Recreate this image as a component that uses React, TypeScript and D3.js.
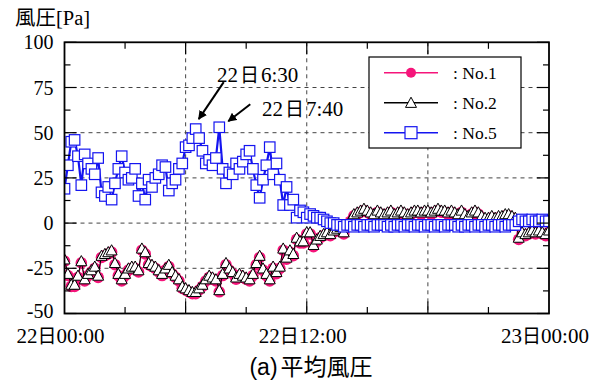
import React from "react";
import * as d3 from "d3";

// sampling every 10 minutes, 22日00:00 .. 23日00:00
const stepMinutes = 10;

const no1 = [
  -21, -29, -35, -35, -30, -22, -32, -29, -27, -25,
  -30, -19, -18, -17, -16, -23, -29, -32, -29, -26,
  -25, -25, -27, -15, -17, -23, -24, -25, -27, -29,
  -26, -24, -28, -30, -32, -36, -37, -38, -39, -39,
  -37, -35, -32, -30, -31, -32, -38, -29, -23, -26,
  -28, -31, -29, -30, -31, -32, -29, -23, -19, -26,
  -29, -32, -25, -28, -25, -15, -20, -16, -18, -9,
  -11, -11, -6, -6, -13, -10, -8, -7, -6, -7,
  -5, -4, -3, -6, -2, 1, 4, 5, 6, 7,
  6, 5, 4, 6, 5, 4, 5, 6, 4, 5,
  6, 5, 4, 5, 6, 6, 5, 6, 6, 5,
  6, 7, 6, 6, 5, 6, 5, 4, 6, 4,
  3, 5, 6, 5, 3, 2, 2, 3, 2, 3,
  3, 4, 4, 3, 2, -9, -6, -7, -6, -5,
  -6, -5, -6, -7, -5,
];

const no2 = [
  -20, -28, -34, -34, -29, -21, -31, -28, -26, -24,
  -29, -18, -17, -16, -15, -22, -28, -31, -28, -25,
  -24, -24, -26, -14, -16, -22, -23, -24, -26, -28,
  -25, -23, -27, -29, -31, -35, -36, -37, -38, -38,
  -36, -34, -31, -29, -30, -31, -37, -28, -22, -25,
  -27, -30, -28, -29, -30, -31, -28, -22, -18, -25,
  -28, -31, -24, -27, -24, -14, -19, -15, -17, -8,
  -10, -10, -5, -5, -12, -9, -7, -6, -5, -6,
  -4, -3, -2, -5, -1, 2, 5, 6, 7, 8,
  7, 6, 5, 7, 6, 5, 6, 7, 5, 6,
  7, 6, 5, 6, 7, 7, 6, 7, 7, 6,
  7, 8, 7, 7, 6, 7, 6, 5, 7, 5,
  4, 6, 7, 6, 4, 3, 3, 4, 3, 4,
  4, 5, 5, 4, 3, -8, -5, -6, -5, -4,
  -5, -4, -5, -6, -4,
];

const no5 = [
  19, 32, 45, 46, 37, 21, 38, 33, 30, 27,
  36, 17, 15, 20, 13, 22, 30, 37, 28, 24,
  25, 30, 15, 22, 13, 24, 20, 25, 27, 32,
  31, 18, 22, 24, 30, 33, 42, 43, 47, 52,
  47, 40, 33, 35, 32, 36, 53, 30, 22, 28,
  27, 33, 30, 34, 38, 40, 30, 21, 14, 24,
  32, 42, 27, 33, 24, 10, 20, 10, 13, 3,
  7, 6, 3, 5, 4, 3, 3, 2, 1, 0,
  0, -1, -1, -2, -1, -1, -2, -1, -1, -2,
  -1, -1, -2, -1, -1, -1, -2, -1, -2, -1,
  -1, -2, -1, -1, -2, -1, -1, -2, -1, -1,
  -2, -1, -1, -2, -1, -1, -1, -2, -1, -2,
  -1, -1, -2, -1, -1, -2, -1, -1, -2, -1,
  -1, -2, -1, -1, -1, 1, 2, 1, 1, 2,
  1, 1, 2, 1, 1,
];

const yTicks = [100, 75, 50, 25, 0, -25, -50];
const yMinorTicks = [87.5, 62.5, 37.5, 12.5, -12.5, -37.5];
const xMajorHours = [6, 12, 18];
const xMinorHours = [3, 9, 15, 21];
const xLabelHours = [0, 12, 24];
const xLabelDay = ["22", "22", "23"];
const xLabelTime = ["00:00", "12:00", "00:00"];

const seriesNames = ["No.1", "No.2", "No.5"];
const annoIndex = [39, 46];
const annoDay = ["22", "22"];
const annoTime = ["6:30", "7:40"];

const PINK = "#f5157a";
const BLUE = "#1414f0";
const SERIF = "'Liberation Serif', serif";
const CJK = "'Noto Sans CJK JP', sans-serif";

export default function App() {
  const W = 600, H = 387;
  const L = 64.5, R = 549, T = 42.3, B = 313.5;
  const x = d3.scaleLinear().domain([0, 24 * 60]).range([L, R]);
  const y = d3.scaleLinear().domain([-50, 100]).range([B, T]);
  const tx = (i: number) => x(i * stepMinutes);

  const line = (vals: number[]) =>
    d3.line<number>().x((_, i) => tx(i)).y((v) => y(v))(vals) || "";

  const tri = (cx: number, cy: number, s = 5.5) =>
    `M${cx},${cy - s}L${cx + s},${cy + s * 0.85}L${cx - s},${cy + s * 0.85}Z`;

  const sq = 10.5;

  // annotation arrow geometry (offsets from data point)
  const arrowTipOff = [[3, -10], [9, -6]];
  const arrowTailOff = [[25, -37], [22, -17]];
  const annoTextPos = [[217, 82], [262, 116]];

  return (
    <svg width={W} height={H} style={{ position: "absolute", left: 0, top: 0, background: "#fff" }}>
      <defs>
        <marker id="ah" viewBox="0 0 10 10" refX="9" refY="5" markerWidth="9" markerHeight="9" orient="auto" markerUnits="userSpaceOnUse">
          <path d="M0,0L10,5L0,10Z" fill="#000" />
        </marker>
        <clipPath id="pc"><rect x={L} y={T} width={R - L} height={B - T} /></clipPath>
      </defs>
      <rect x={0} y={0} width={W} height={H} fill="#fff" />

      {/* grid */}
      {yTicks.filter((v) => v > -50 && v < 100).map((v) => (
        <line key={"gy" + v} x1={L} x2={R} y1={y(v)} y2={y(v)} stroke="#444" strokeWidth={1} strokeDasharray="4,4" />
      ))}
      {xMajorHours.map((h) => (
        <line key={"gx" + h} x1={x(h * 60)} x2={x(h * 60)} y1={T} y2={B} stroke="#444" strokeWidth={1} strokeDasharray="4,4" />
      ))}

      {/* series */}
      <g clipPath="url(#pc)">
        <path d={line(no1)} fill="none" stroke={PINK} strokeWidth={1.2} />
        {no1.map((v, i) => (
          <circle key={"c" + i} cx={tx(i)} cy={y(v)} r={5.8} fill={PINK} />
        ))}
        <path d={line(no2)} fill="none" stroke="#000" strokeWidth={1} />
        {no2.map((v, i) => (
          <path key={"t" + i} d={tri(tx(i), y(v))} fill="#fff" stroke="#000" strokeWidth={1} />
        ))}
        <path d={line(no5)} fill="none" stroke={BLUE} strokeWidth={2.2} />
        {no5.map((v, i) => (
          <rect key={"s" + i} x={tx(i) - sq / 2} y={y(v) - sq / 2} width={sq} height={sq} fill="#fff" stroke={BLUE} strokeWidth={1.2} />
        ))}
      </g>

      {/* ticks */}
      {yTicks.map((v) => (
        <g key={"yt" + v}>
          <line x1={L} x2={L + 12} y1={y(v)} y2={y(v)} stroke="#000" strokeWidth={1.2} />
          <line x1={R} x2={R - 12} y1={y(v)} y2={y(v)} stroke="#000" strokeWidth={1.2} />
        </g>
      ))}
      {yMinorTicks.map((v) => (
        <g key={"ymt" + v}>
          <line x1={L} x2={L + 6} y1={y(v)} y2={y(v)} stroke="#000" strokeWidth={1.2} />
          <line x1={R} x2={R - 6} y1={y(v)} y2={y(v)} stroke="#000" strokeWidth={1.2} />
        </g>
      ))}
      {xMajorHours.map((h) => (
        <g key={"xt" + h}>
          <line x1={x(h * 60)} x2={x(h * 60)} y1={B} y2={B - 12} stroke="#000" strokeWidth={1.2} />
          <line x1={x(h * 60)} x2={x(h * 60)} y1={T} y2={T + 12} stroke="#000" strokeWidth={1.2} />
        </g>
      ))}
      {xMinorHours.map((h) => (
        <g key={"xmt" + h}>
          <line x1={x(h * 60)} x2={x(h * 60)} y1={B} y2={B - 6.5} stroke="#000" strokeWidth={1.2} />
          <line x1={x(h * 60)} x2={x(h * 60)} y1={T} y2={T + 6.5} stroke="#000" strokeWidth={1.2} />
        </g>
      ))}

      {/* frame */}
      <rect x={L} y={T} width={R - L} height={B - T} fill="none" stroke="#000" strokeWidth={1.8} />

      {/* y labels */}
      {yTicks.map((v) => (
        <text key={"yl" + v} x={L - 11} y={y(v) - (v === -50 ? 3 : 0)} dy="0.35em" textAnchor="end" fontFamily={SERIF} fontSize={20} fill="#000">
          {v}
        </text>
      ))}

      {/* x labels */}
      {xLabelHours.map((h, i) => (
        <text key={"xl" + h} x={x(h * 60) - 4} y={343} textAnchor="middle" fontFamily={SERIF} fontSize={21} fill="#000">
          <tspan>{xLabelDay[i]}</tspan>
          <tspan fontFamily={CJK} fontSize={19}>日</tspan>
          <tspan>{xLabelTime[i]}</tspan>
        </text>
      ))}

      {/* axis title */}
      <text x={15} y={25} fontSize={20.5} fill="#000">
        <tspan fontFamily={CJK}>風圧</tspan>
        <tspan fontFamily={SERIF}>[Pa]</tspan>
      </text>

      {/* caption */}
      <text x={311} y={375} textAnchor="middle" fontSize={23} fill="#000">
        <tspan fontFamily="'Liberation Sans', Arial, sans-serif">(a)</tspan>
        <tspan fontFamily={CJK} dx={3}>平均風圧</tspan>
      </text>

      {/* annotations */}
      {annoIndex.map((idx, k) => {
        const px = tx(idx), py = y(no5[idx]);
        const tipX = px + arrowTipOff[k][0], tipY = py + arrowTipOff[k][1];
        return (
          <g key={"an" + k}>
            <line x1={tipX + arrowTailOff[k][0]} y1={tipY + arrowTailOff[k][1]} x2={tipX} y2={tipY} stroke="#000" strokeWidth={2} markerEnd="url(#ah)" />
            <text x={annoTextPos[k][0]} y={annoTextPos[k][1]} fontFamily={SERIF} fontSize={21} fill="#000">
              <tspan>{annoDay[k]}</tspan>
              <tspan fontFamily={CJK} fontSize={19} dx={2}>日</tspan>
              <tspan dx={2}>{annoTime[k]}</tspan>
            </text>
          </g>
        );
      })}

      {/* legend */}
      <g>
        <rect x={369} y={57} width={152} height={91} fill="#fff" stroke="#000" strokeWidth={1.2} />
        {seriesNames.map((name, k) => {
          const ly = 72.7 + k * 30;
          const color = k === 0 ? PINK : k === 1 ? "#000" : BLUE;
          return (
            <g key={"lg" + k}>
              <line x1={384} x2={438} y1={ly} y2={ly} stroke={color} strokeWidth={1.6} />
              {k === 0 && <circle cx={411} cy={ly} r={5} fill={PINK} />}
              {k === 1 && <path d={tri(411, ly, 5.5)} fill="#fff" stroke="#000" strokeWidth={1} />}
              {k === 2 && <rect x={411 - 6} y={ly - 6} width={12} height={12} fill="#fff" stroke={BLUE} strokeWidth={1.2} />}
              <text x={453} y={ly} dy="0.35em" fontFamily={SERIF} fontSize={17.5} fill="#000">
                {": " + name}
              </text>
            </g>
          );
        })}
      </g>
    </svg>
  );
}
